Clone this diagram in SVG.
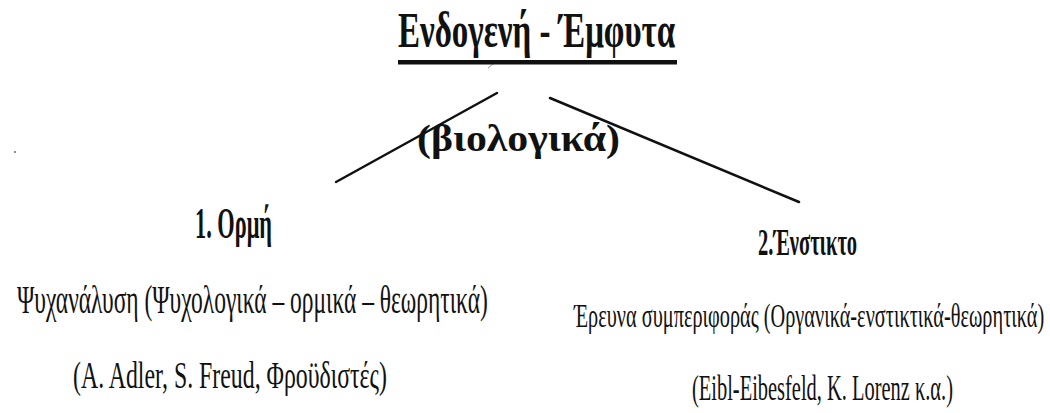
<svg xmlns="http://www.w3.org/2000/svg" width="1050" height="413" viewBox="0 0 1050 413">
  <style>
    .t { font-family: "Liberation Serif", "Times New Roman", serif; fill: #111; }
    .b { font-weight: bold; }
    .conn { stroke: #111; stroke-width: 2.5; fill: none; stroke-linecap: round; }
  </style>
  <rect x="0" y="0" width="1050" height="413" fill="#ffffff"/>
  <g id="connectors">
    <line class="conn" x1="497" y1="93" x2="336" y2="182"/>
    <line class="conn" x1="550" y1="98" x2="799" y2="202"/>
    <line x1="488" y1="68" x2="497" y2="61" stroke="#999" stroke-width="1"/>
  </g>
  <g id="title">
    <text class="t b" transform="translate(398,47) scale(0.63,1)" font-size="50" textLength="440" lengthAdjust="spacingAndGlyphs">Ενδογενή - Έμφυτα</text>
    <rect x="398" y="60" width="279" height="4.5" fill="#111"/>
  </g>
  <g id="label-bio">
    <text class="t" transform="translate(417,151) scale(1.08,1)" font-size="38" font-weight="600" textLength="188" lengthAdjust="spacingAndGlyphs">(βιολογικά)</text>
  </g>
  <g id="node-ormi">
    <text class="t b" transform="translate(195,238) scale(0.51,1)" font-size="44" textLength="151" lengthAdjust="spacingAndGlyphs">1. Ορμή</text>
    <text class="t" transform="translate(17,313) scale(0.55,1)" font-size="40" textLength="856" lengthAdjust="spacingAndGlyphs">Ψυχανάλυση (Ψυχολογικά – ορμικά – θεωρητικά)</text>
    <text class="t" transform="translate(73,388) scale(0.65,1)" font-size="37" textLength="483" lengthAdjust="spacingAndGlyphs">(A. Adler, S. Freud, Φροϋδιστές)</text>
  </g>
  <g id="node-enstikto">
    <text class="t b" transform="translate(758,255) scale(0.53,1)" font-size="38" textLength="187" lengthAdjust="spacingAndGlyphs">2.Ένστικτο</text>
    <text class="t" transform="translate(574,327) scale(0.59,1)" font-size="34" textLength="797" lengthAdjust="spacingAndGlyphs">Έρευνα συμπεριφοράς (Οργανικά-ενστικτικά-θεωρητικά)</text>
    <text class="t" transform="translate(692,400) scale(0.58,1)" font-size="35" textLength="450" lengthAdjust="spacingAndGlyphs">(Eibl-Eibesfeld, K. Lorenz κ.α.)</text>
  </g>
  <circle cx="15" cy="152" r="1" fill="#666"/>
</svg>
